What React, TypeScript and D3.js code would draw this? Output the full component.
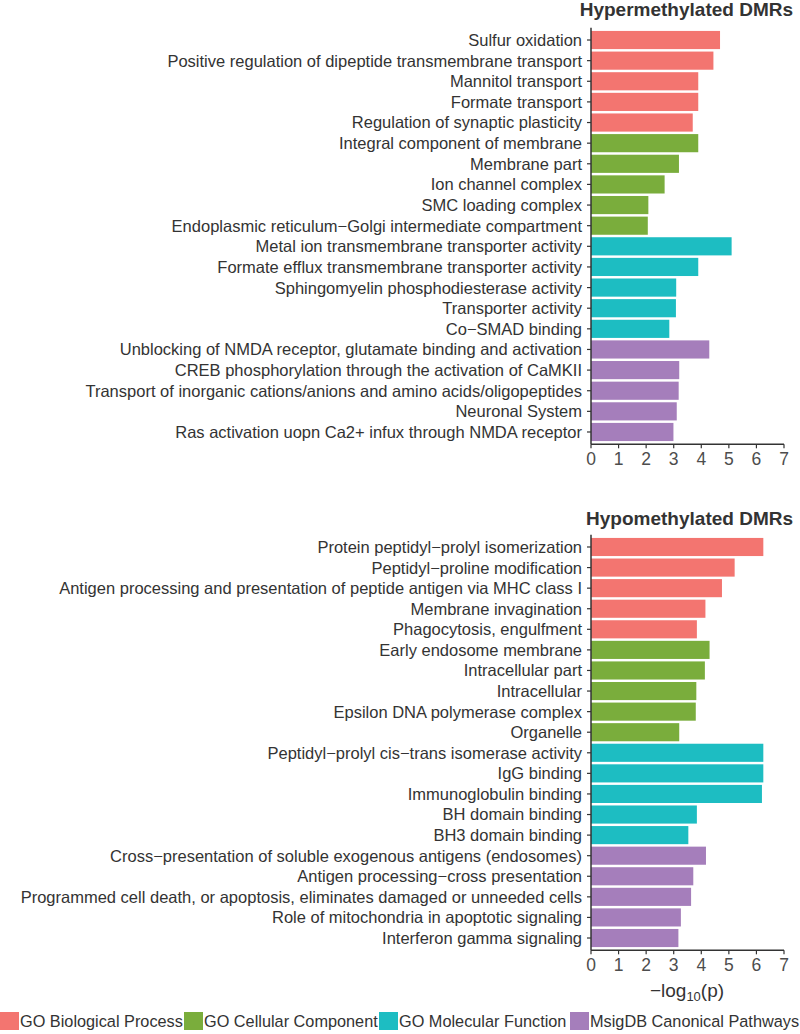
import React from "react";
import * as d3 from "d3";

const categoryNames = ["GO Biological Process", "GO Cellular Component", "GO Molecular Function", "MsigDB Canonical Pathways"];
const categoryColors = ["#F37570", "#7AAD3C", "#1DBDC2", "#A57EBB"];

const hyperTerms = [
  "Sulfur oxidation",
  "Positive regulation of dipeptide transmembrane transport",
  "Mannitol transport",
  "Formate transport",
  "Regulation of synaptic plasticity",
  "Integral component of membrane",
  "Membrane part",
  "Ion channel complex",
  "SMC loading complex",
  "Endoplasmic reticulum\u2212Golgi intermediate compartment",
  "Metal ion transmembrane transporter activity",
  "Formate efflux transmembrane transporter activity",
  "Sphingomyelin phosphodiesterase activity",
  "Transporter activity",
  "Co\u2212SMAD binding",
  "Unblocking of NMDA receptor, glutamate binding and activation",
  "CREB phosphorylation through the activation of CaMKII",
  "Transport of inorganic cations/anions and amino acids/oligopeptides",
  "Neuronal System",
  "Ras activation uopn Ca2+ infux through NMDA receptor",
];
const hyperValues = [4.68, 4.44, 3.89, 3.89, 3.69, 3.89, 3.19, 2.67, 2.08, 2.06, 5.1, 3.89, 3.09, 3.08, 2.84, 4.29, 3.2, 3.18, 3.11, 2.99];
const hyperCats = [0, 0, 0, 0, 0, 1, 1, 1, 1, 1, 2, 2, 2, 2, 2, 3, 3, 3, 3, 3];

const hypoTerms = [
  "Protein peptidyl\u2212prolyl isomerization",
  "Peptidyl\u2212proline modification",
  "Antigen processing and presentation of peptide antigen via MHC class I",
  "Membrane invagination",
  "Phagocytosis, engulfment",
  "Early endosome membrane",
  "Intracellular part",
  "Intracellular",
  "Epsilon DNA polymerase complex",
  "Organelle",
  "Peptidyl\u2212prolyl cis\u2212trans isomerase activity",
  "IgG binding",
  "Immunoglobulin binding",
  "BH domain binding",
  "BH3 domain binding",
  "Cross\u2212presentation of soluble exogenous antigens (endosomes)",
  "Antigen processing\u2212cross presentation",
  "Programmed cell death, or apoptosis, eliminates damaged or unneeded cells",
  "Role of mitochondria in apoptotic signaling",
  "Interferon gamma signaling",
];
const hypoValues = [6.25, 5.21, 4.75, 4.15, 3.84, 4.3, 4.13, 3.82, 3.8, 3.2, 6.25, 6.25, 6.2, 3.84, 3.53, 4.17, 3.71, 3.63, 3.26, 3.17];
const hypoCats = [0, 0, 0, 0, 0, 1, 1, 1, 1, 1, 2, 2, 2, 2, 2, 3, 3, 3, 3, 3];

const xTicks = [0, 1, 2, 3, 4, 5, 6, 7];

const FONT = "'Liberation Sans', Arial, Helvetica, sans-serif";
const TEXT = "#333333";

const x = d3.scaleLinear().domain([0, 7]).range([591, 784]);

function Panel({ title, titleY, terms, values, cats, top, bottom }: any) {
  const y = d3.scaleBand<string>().domain(terms).range([top, bottom]).paddingInner(0.12).paddingOuter(0.06);
  const axisY = bottom + 2;
  return (
    <g>
      <text x={793} y={titleY} textAnchor="end" fontFamily={FONT} fontWeight="bold" fontSize={19} fill={TEXT}>
        {title}
      </text>
      {terms.map((t: string, i: number) => (
        <g key={t}>
          <rect
            x={x(0)}
            y={y(t)!}
            width={x(values[i]) - x(0)}
            height={y.bandwidth()}
            fill={categoryColors[cats[i]]}
          />
          <line x1={x(0) - 4} x2={x(0)} y1={y(t)! + y.bandwidth() / 2} y2={y(t)! + y.bandwidth() / 2} stroke={TEXT} strokeWidth={1.2} />
          <text
            x={x(0) - 9}
            y={y(t)! + y.bandwidth() / 2}
            dy="0.36em"
            textAnchor="end"
            fontFamily={FONT}
            fontSize={16.5}
            fill={TEXT}
          >
            {t}
          </text>
        </g>
      ))}
      <line x1={x(0)} x2={x(0)} y1={top - 2} y2={axisY} stroke={TEXT} strokeWidth={1.5} />
      <line x1={x(0)} x2={x(7)} y1={axisY} y2={axisY} stroke={TEXT} strokeWidth={1.5} />
      {xTicks.map((v) => (
        <g key={v}>
          <line x1={x(v)} x2={x(v)} y1={axisY} y2={axisY + 4} stroke={TEXT} strokeWidth={1.2} />
          <text x={x(v)} y={axisY + 21} textAnchor="middle" fontFamily={FONT} fontSize={17.5} fill="#4d4d4d">
            {v}
          </text>
        </g>
      ))}
    </g>
  );
}

export default function App() {
  const legendX = [0, 184, 379, 570];
  return (
    <svg width={800} height={1034} style={{ position: "absolute", left: 0, top: 0, background: "#fff" }}>
      <rect width={800} height={1034} fill="#fff" />
      <Panel title="Hypermethylated DMRs" titleY={16} terms={hyperTerms} values={hyperValues} cats={hyperCats} top={29.7} bottom={442.3} />
      <Panel title="Hypomethylated DMRs" titleY={525} terms={hypoTerms} values={hypoValues} cats={hypoCats} top={536.7} bottom={948.3} />
      <text x={687} y={997} textAnchor="middle" fontFamily={FONT} fontSize={19} fill={TEXT}>
        {"\u2212log"}
        <tspan fontSize={13} dy={4}>10</tspan>
        <tspan dy={-4}>(p)</tspan>
      </text>
      {categoryNames.map((c, i) => (
        <g key={c}>
          <rect x={legendX[i]} y={1012} width={19} height={18} fill={categoryColors[i]} />
          <text x={legendX[i] + 20} y={1021} dy="0.36em" fontFamily={FONT} fontSize={16.3} fill={TEXT}>
            {c}
          </text>
        </g>
      ))}
    </svg>
  );
}
